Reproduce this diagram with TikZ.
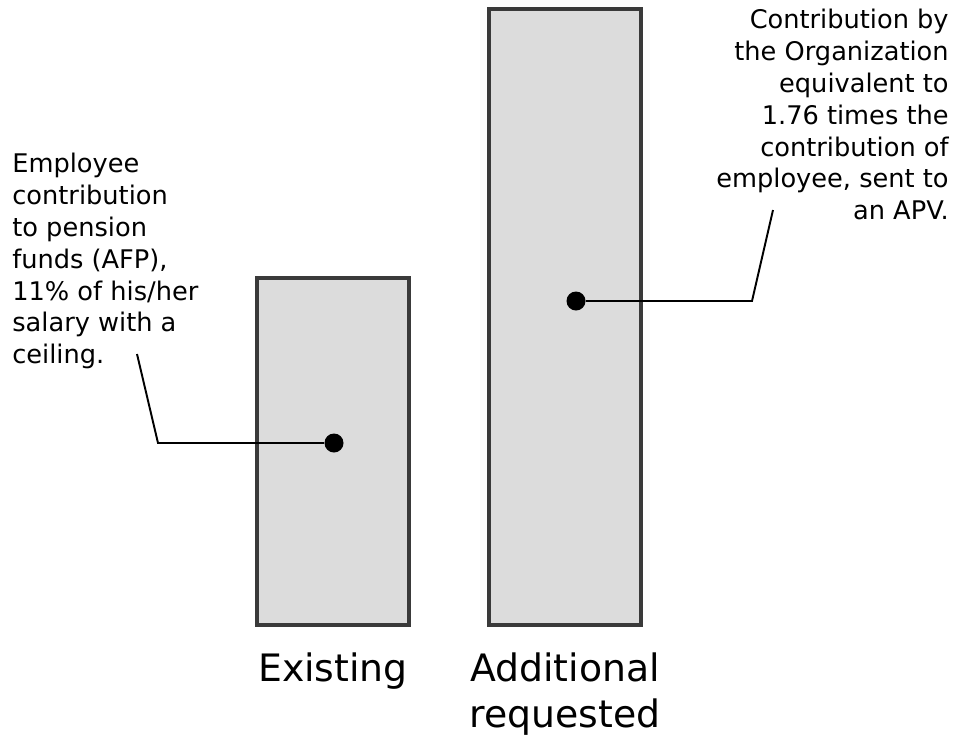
\documentclass[tikz,border=0pt]{standalone}
\usepackage{fontspec}
\setmainfont{DejaVu Sans}
\definecolor{barline}{HTML}{3A3A3A}
\definecolor{barfill}{HTML}{DCDCDC}
\begin{document}
\begin{tikzpicture}[x=0.02cm, y=-0.02cm,
	bar/.style={draw=barline, fill=barfill, line width=2.2pt, inner sep=0, outer sep=0, minimum width=3.04cm, anchor=south},
	dot/.style={circle, fill=black, inner sep=0, minimum size=0.38cm},
	note/.style={inner sep=0, font=\fontsize{14.6}{18.1}\selectfont},
	caption/.style={inner sep=0, align=center, font=\fontsize{21.5}{26.6}\selectfont},
	leader/.style={line width=1.1pt}]
	\useasboundingbox (0,0) rectangle (956,738);

	\node[bar, minimum height=6.94cm] (existing) at (333,625) {};
	\node[bar, minimum height=12.32cm] (additional) at (565,625) {};

	\node[caption, anchor=north] (existinglbl) at (existing.south |- 0,652) {Existing};
	\node[caption, anchor=north] (additionallbl) at (additional.south |- 0,652) {Additional\\requested};

	\node[dot] (dotE) at (334,443) {};
	\node[dot] (dotA) at (576,301) {};

	\node[note, anchor=north west, align=left] (noteE) at (12,153)
		{Employee\\contribution\\to pension\\funds (AFP),\\11\% of his/her\\salary with a\\ceiling.};
	\node[note, anchor=north east, align=right] (noteA) at (949,9)
		{Contribution by\\the Organization\\equivalent to\\1.76 times the\\contribution of\\employee, sent to\\an APV.};

	\coordinate (kneeE) at (158,443);
	\coordinate (tipE) at (137,354);
	\coordinate (kneeA) at (752,301);
	\coordinate (tipA) at (773,210);
	\draw[leader] (dotE) -- (kneeE) -- (tipE);
	\draw[leader] (dotA) -- (kneeA) -- (tipA);

\end{tikzpicture}
\end{document}
